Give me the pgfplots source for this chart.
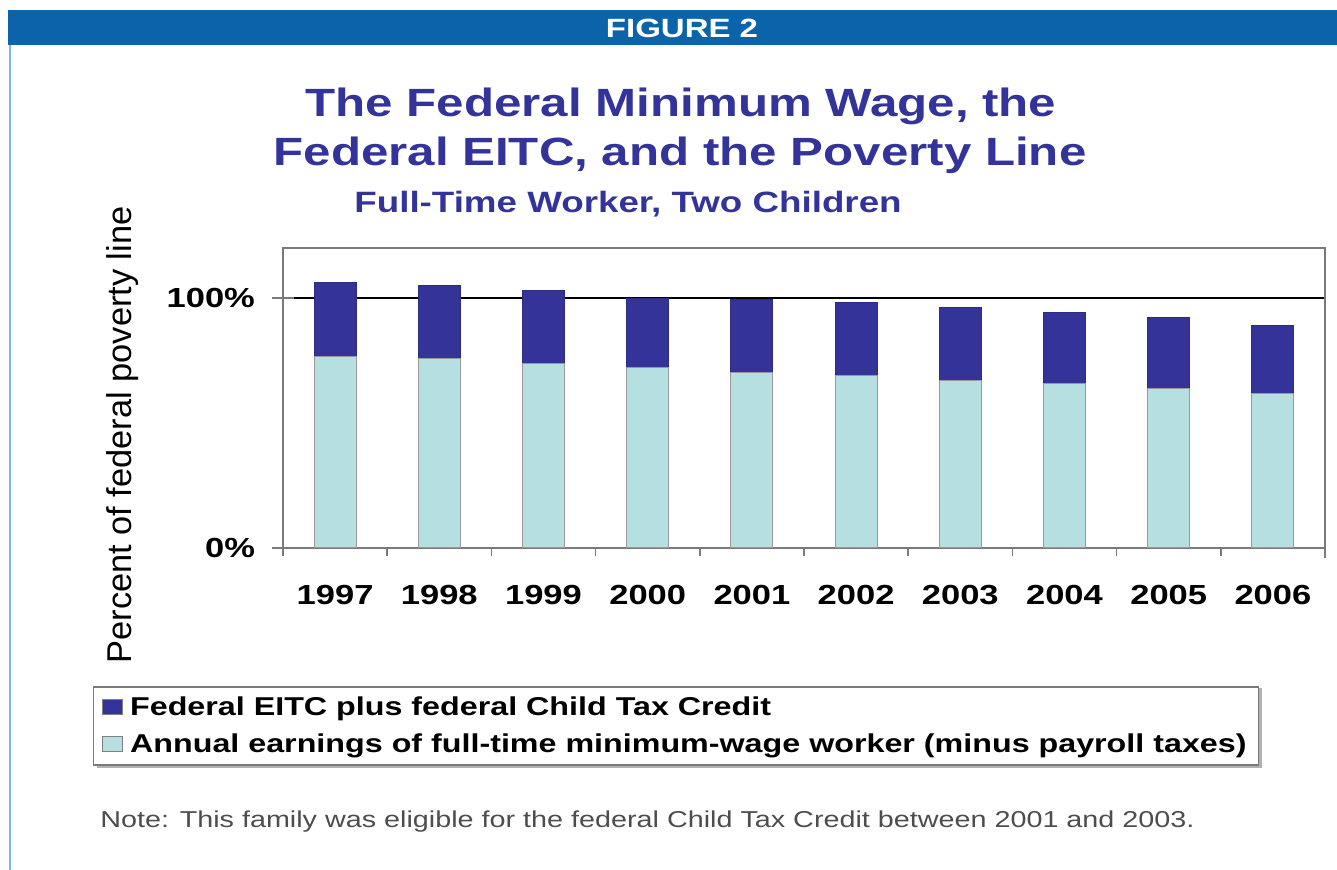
\documentclass[border=0pt]{standalone}
\usepackage{pgfplots}
\pgfplotsset{compat=1.18}
\usepackage{fontspec}
\setmainfont{Liberation Sans}[FakeStretch=1.25]
\newfontfamily\plainfont{Liberation Sans}
\definecolor{hdrblue}{HTML}{0B64A9}
\definecolor{edgeblue}{HTML}{7DB8E6}
\definecolor{ttlblue}{HTML}{333399}
\definecolor{eitc}{HTML}{333399}
\definecolor{earn}{HTML}{B6DFE2}
\definecolor{notegray}{HTML}{4D4D4D}
\definecolor{axgray}{HTML}{7A7A7A}

\begin{document}
\begin{tikzpicture}[x=0.5pt,y=0.5pt]
\path[use as bounding box] (0,0) rectangle (1337,870);
% header bar and frame
\fill[hdrblue] (8,825) rectangle (1337,860);
\draw[edgeblue, line width=1pt] (9.5,825) -- (9.5,0);
\node[text=white, font=\bfseries\fontsize{13.2}{15}\selectfont] at (682,842) {FIGURE 2};
% titles
\node[anchor=base, text=ttlblue, font=\bfseries\fontsize{19.7}{23}\selectfont] at (681,753) {The Federal Minimum Wage, the};
\node[anchor=base, text=ttlblue, font=\bfseries\fontsize{19.7}{23}\selectfont] at (680,704) {Federal EITC, and the Poverty Line};
\node[anchor=base, text=ttlblue, font=\bfseries\fontsize{14.7}{17}\selectfont] at (628,657) {Full-Time Worker, Two Children};
\node[rotate=90, font=\plainfont\fontsize{17.2}{20}\selectfont] at (123,435) {Percent of federal poverty line};
% legend shadow
\fill[gray!60] (97,102) rectangle (1262,182);

\begin{axis}[
    at={(141.5pt,161pt)}, anchor=south west,
    width=521pt, height=150pt, scale only axis,
    clip=false,
    ybar stacked, bar width=21pt,
    xmin=-0.5, xmax=9.5, ymin=0, ymax=120,
    xtick={0,...,9},
    xticklabels={1997,1998,1999,2000,2001,2002,2003,2004,2005,2006},
    ytick={0,100}, yticklabels={0\%,100\%},
    xtick pos=bottom, ytick pos=left,
    major x tick style={draw=none},
    tick align=center, major tick length=11pt,
    tick style={axgray, line width=0.8pt},
    ymajorgrids, grid style={black, line width=0.6pt},
    axis line style={axgray, line width=1pt},
    ticklabel style={font=\bfseries\fontsize{13.8}{16}\selectfont},
    xticklabel style={yshift=-9.5pt},
    yticklabel style={xshift=-5pt},
    /pgf/number format/assume math mode=true,
    reverse legend,
    legend cell align=left,
    legend style={at={(-0.1825,-0.46)}, anchor=north west,
        draw=axgray, line width=0.8pt, fill=white,
        font=\bfseries\fontsize{12.9}{15}\selectfont,
        row sep=3.5pt, inner xsep=4pt, inner ysep=3pt},
    legend image code/.code={
        \draw[#1, draw=gray, line width=0.5pt] (0pt,-3.5pt) rectangle (10pt,4pt);
        \path[draw=none, fill=none] (0pt,0pt) rectangle (12pt,0.5pt);},
]
\addplot[fill=earn, draw=gray!80, line width=0.5pt] coordinates {
(0,76.6) (1,75.7) (2,73.7) (3,72.2) (4,70.2) (5,69.0) (6,67.0) (7,65.7) (8,63.7) (9,61.7)};
\addlegendentry{Annual earnings of full-time minimum-wage worker (minus payroll taxes)}
\addplot[fill=eitc, draw=eitc!85!black, line width=0.5pt] coordinates {
(0,29.4) (1,29.2) (2,29.3) (3,27.4) (4,29.1) (5,29.2) (6,29.2) (7,28.5) (8,28.5) (9,27.2)};
\addlegendentry{Federal EITC plus federal Child Tax Credit}
\pgfplotsinvokeforeach{-0.5,0.5,...,8.5}{
  \draw[axgray, line width=0.8pt] (axis cs:#1,0) -- ([yshift=-4pt]axis cs:#1,0);
}
\draw[axgray, line width=0.8pt] (axis cs:9.5,0) -- ([yshift=-5pt]axis cs:9.5,0);
\end{axis}

\node[anchor=base west, inner sep=0pt, text=notegray, font=\fontsize{11.5}{13}\selectfont] at (100,42) {Note: This family was eligible for the federal Child Tax Credit between 2001 and 2003.};
\end{tikzpicture}
\end{document}
